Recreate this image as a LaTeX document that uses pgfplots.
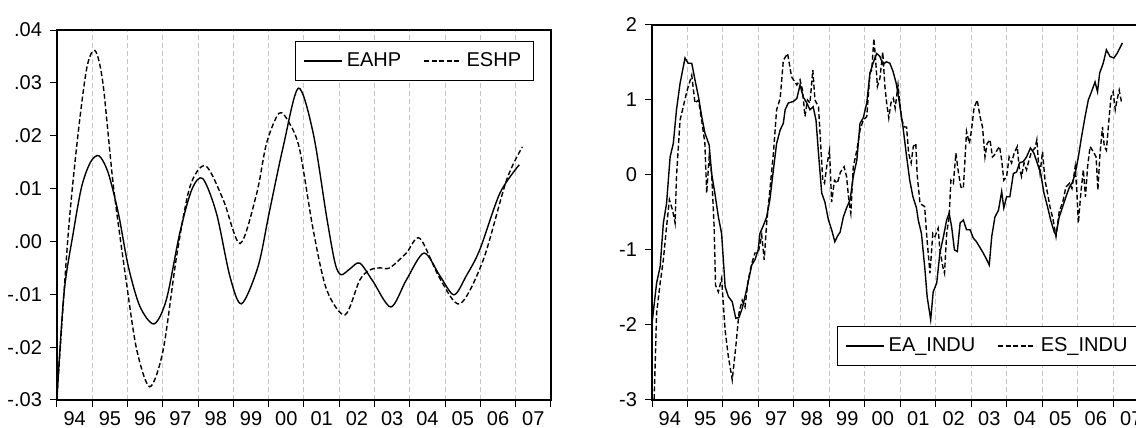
\documentclass[border=0pt]{standalone}
\usepackage{fontspec}
\setmainfont{Liberation Sans}
\usepackage{pgfplots}
\usepackage{pgfplotstable}
\pgfplotsset{compat=1.18}

% HP cycles (left panel)
\pgfplotstableread{
x y
1994.00 -0.0294
1994.20 -0.0097
1994.46 0.0016
1994.70 0.0104
1994.95 0.0150
1995.19 0.0162
1995.45 0.0130
1995.74 0.0053
1996.02 -0.0047
1996.35 -0.0123
1996.75 -0.0156
1997.10 -0.0110
1997.48 0.0016
1997.82 0.0098
1998.13 0.0119
1998.52 0.0053
1998.90 -0.0066
1999.23 -0.0118
1999.70 -0.0047
2000.01 0.0053
2000.41 0.0179
2000.84 0.0290
2001.26 0.0205
2001.64 0.0047
2001.88 -0.0041
2002.05 -0.0063
2002.30 -0.0052
2002.58 -0.0041
2002.95 -0.0075
2003.46 -0.0124
2003.90 -0.0073
2004.40 -0.0022
2004.85 -0.0065
2005.25 -0.0101
2005.60 -0.0065
2005.98 -0.0016
2006.55 0.0091
2007.10 0.0145
}\eahp

\pgfplotstableread{
x y
1994.00 -0.0294
1994.32 0.0016
1994.60 0.0205
1994.85 0.0330
1995.08 0.0361
1995.30 0.0300
1995.60 0.0104
1995.97 -0.0079
1996.26 -0.0205
1996.63 -0.0275
1997.01 -0.0205
1997.39 -0.0028
1997.77 0.0104
1998.21 0.0143
1998.71 0.0079
1999.19 -0.0004
1999.66 0.0091
1999.94 0.0186
2000.30 0.0243
2000.60 0.0222
2000.88 0.0173
2001.26 0.0022
2001.64 -0.0091
2002.16 -0.0139
2002.58 -0.0073
2002.87 -0.0054
2003.15 -0.0050
2003.43 -0.0050
2003.90 -0.0022
2004.28 0.0006
2004.85 -0.0070
2005.42 -0.0118
2006.08 -0.0035
2006.74 0.0116
2007.19 0.0179
}\eshp

% industry confidence (right panel)
\pgfplotstableread{
x y
1994.00 -1.98
1994.13 -1.44
1994.23 -1.22
1994.32 -0.64
1994.41 -0.38
1994.51 0.24
1994.60 0.42
1994.69 0.87
1994.79 1.22
1994.93 1.56
1995.02 1.49
1995.12 1.49
1995.21 1.27
1995.31 1.04
1995.40 0.78
1995.49 0.56
1995.61 0.40
1995.68 0.02
1995.77 -0.24
1995.87 -0.56
1995.96 -0.78
1996.06 -1.49
1996.15 -1.62
1996.26 -1.69
1996.36 -1.91
1996.45 -1.90
1996.54 -1.78
1996.64 -1.58
1996.73 -1.38
1996.81 -1.20
1996.90 -1.13
1996.99 -1.00
1997.04 -0.78
1997.14 -0.67
1997.23 -0.56
1997.32 -0.33
1997.42 0.07
1997.51 0.42
1997.61 0.60
1997.70 0.69
1997.75 0.87
1997.84 0.96
1997.98 0.98
1998.08 1.02
1998.17 1.20
1998.26 1.04
1998.36 0.96
1998.45 0.87
1998.54 0.91
1998.62 0.73
1998.69 0.29
1998.78 -0.24
1998.87 -0.36
1998.97 -0.60
1999.06 -0.73
1999.15 -0.89
1999.22 -0.82
1999.30 -0.76
1999.39 -0.56
1999.48 -0.44
1999.58 -0.33
1999.67 -0.02
1999.77 0.20
1999.86 0.69
1999.95 0.76
2000.05 0.96
2000.14 1.36
2000.24 1.51
2000.33 1.62
2000.42 1.58
2000.51 1.47
2000.60 1.51
2000.70 1.49
2000.79 1.38
2000.88 1.22
2000.97 0.96
2001.07 0.64
2001.16 0.29
2001.26 -0.07
2001.35 -0.29
2001.45 -0.44
2001.50 -0.60
2001.59 -0.78
2001.69 -1.27
2001.75 -1.62
2001.85 -1.93
2001.92 -1.56
2002.02 -1.44
2002.11 -1.04
2002.21 -0.82
2002.30 -0.60
2002.37 -0.51
2002.44 -0.69
2002.52 -1.00
2002.60 -1.02
2002.68 -0.64
2002.77 -0.60
2002.86 -0.73
2002.96 -0.73
2003.05 -0.84
2003.14 -0.89
2003.23 -0.96
2003.33 -1.04
2003.43 -1.13
2003.50 -1.20
2003.57 -0.82
2003.66 -0.56
2003.76 -0.47
2003.85 -0.22
2003.91 -0.44
2003.99 -0.29
2004.08 -0.29
2004.18 0.02
2004.27 0.04
2004.35 0.16
2004.46 0.18
2004.55 0.24
2004.66 0.36
2004.76 0.29
2004.85 0.16
2004.95 0.02
2005.04 -0.24
2005.14 -0.42
2005.23 -0.60
2005.33 -0.76
2005.38 -0.80
2005.47 -0.56
2005.57 -0.42
2005.66 -0.29
2005.76 -0.16
2005.85 -0.09
2005.92 0.02
2006.01 0.24
2006.10 0.51
2006.20 0.78
2006.29 1.00
2006.38 1.11
2006.48 1.24
2006.55 1.11
2006.61 1.36
2006.71 1.49
2006.80 1.67
2006.90 1.58
2007.01 1.56
2007.10 1.62
2007.25 1.76
}\eaindu

\pgfplotstableread{
x y
1994.00 -4.00
1994.13 -1.84
1994.23 -1.44
1994.32 -1.13
1994.41 -0.69
1994.49 -0.33
1994.58 -0.47
1994.65 -0.64
1994.69 -0.02
1994.79 0.73
1994.88 0.91
1994.99 1.13
1995.12 1.33
1995.21 0.96
1995.31 1.00
1995.40 0.73
1995.49 0.42
1995.54 -0.24
1995.61 0.24
1995.68 0.02
1995.75 -0.69
1995.79 -1.47
1995.87 -1.56
1995.96 -1.38
1996.06 -2.07
1996.15 -2.42
1996.26 -2.73
1996.36 -2.29
1996.45 -1.84
1996.54 -1.67
1996.62 -1.76
1996.71 -1.40
1996.81 -1.18
1996.90 -1.04
1996.99 -1.04
1997.09 -0.80
1997.16 -1.13
1997.23 -0.64
1997.32 -0.20
1997.42 0.29
1997.51 0.87
1997.61 1.02
1997.70 1.53
1997.82 1.62
1997.93 1.31
1998.08 1.20
1998.17 1.27
1998.24 1.13
1998.31 0.78
1998.38 1.00
1998.45 0.96
1998.53 1.40
1998.59 1.00
1998.69 0.91
1998.75 0.42
1998.81 -0.07
1998.86 -0.11
1998.92 0.11
1999.00 0.33
1999.06 -0.36
1999.14 -0.07
1999.22 -0.11
1999.31 0.04
1999.41 0.11
1999.48 -0.02
1999.55 -0.36
1999.60 -0.51
1999.67 0.11
1999.77 0.33
1999.86 0.60
1999.95 0.73
2000.05 0.78
2000.14 1.36
2000.19 1.40
2000.25 1.82
2000.30 1.53
2000.35 1.18
2000.42 1.29
2000.50 1.64
2000.56 1.18
2000.61 0.96
2000.67 0.76
2000.73 0.96
2000.80 1.02
2000.85 0.89
2000.93 1.20
2000.98 0.96
2001.04 0.73
2001.11 0.64
2001.17 0.64
2001.23 0.29
2001.30 0.16
2001.36 0.38
2001.43 0.42
2001.47 0.00
2001.55 -0.38
2001.61 -0.40
2001.68 -0.42
2001.74 -0.82
2001.83 -1.31
2001.91 -0.78
2001.97 -0.82
2002.06 -0.71
2002.11 -1.00
2002.19 -1.22
2002.24 -1.31
2002.30 -0.78
2002.37 -0.56
2002.42 -0.07
2002.49 -0.11
2002.56 0.29
2002.63 0.04
2002.70 -0.16
2002.77 -0.18
2002.86 0.58
2002.94 0.42
2003.00 0.60
2003.07 0.89
2003.16 1.00
2003.24 0.78
2003.31 0.64
2003.38 0.24
2003.44 0.42
2003.52 0.47
2003.59 0.24
2003.65 0.27
2003.72 0.33
2003.79 0.38
2003.85 0.20
2003.91 -0.07
2003.99 -0.02
2004.06 0.24
2004.13 0.16
2004.20 0.29
2004.29 0.38
2004.34 0.11
2004.41 -0.02
2004.48 0.16
2004.55 0.07
2004.62 0.20
2004.69 0.31
2004.79 0.36
2004.84 0.47
2004.88 0.20
2004.93 0.02
2005.00 0.31
2005.07 -0.07
2005.14 -0.24
2005.21 -0.42
2005.30 -0.60
2005.38 -0.82
2005.47 -0.49
2005.57 -0.36
2005.66 -0.16
2005.76 -0.11
2005.83 -0.18
2005.92 0.11
2005.97 -0.24
2006.01 -0.64
2006.08 -0.24
2006.15 0.07
2006.21 -0.29
2006.27 0.11
2006.34 0.38
2006.43 0.31
2006.51 0.24
2006.56 -0.20
2006.62 0.29
2006.69 0.64
2006.74 0.38
2006.80 0.33
2006.87 0.73
2006.93 1.04
2006.99 1.11
2007.05 0.87
2007.10 1.00
2007.16 1.13
2007.23 0.96
}\esindu

\pgfplotsset{
  evframe/.style={
    scale only axis,
    xmin=1994, xmax=2008,
    scaled y ticks=false,
    axis line style={line width=1pt},
    every tick/.style={black, line width=0.5pt},
    tick align=outside,
    xtick pos=left, ytick pos=left,
    major tick length=3.5pt, minor tick length=2.5pt,
    xtick={1994,...,2008}, xticklabels={},
    minor x tick num=3,
    xmajorgrids,
    major grid style={gray!45, line width=0.5pt, dash pattern=on 2.5pt off 1.5pt},
    extra x ticks={1994.5,1995.5,...,2007.5},
    extra x tick labels={94,95,96,97,98,99,00,01,02,03,04,05,06,07},
    extra x tick style={major tick length=0pt, grid=none},
    tick label style={font=\fontsize{10}{12}\selectfont},
    xticklabel style={inner sep=0pt, yshift=-5.5pt},
    yticklabel style={xshift=-0.5pt},
    legend columns=2,
    legend image code/.code={\draw[#1] (0pt,0pt) -- (19pt,0pt);},
    legend style={draw=black, line width=0.6pt, fill=white,
      font=\fontsize{10}{12}\selectfont, inner xsep=4pt, inner ysep=3.5pt,
      /tikz/every even column/.append style={column sep=9pt}},
  },
  solidser/.style={black, line width=0.7pt},
  dashser/.style={black, line width=0.7pt, dash pattern=on 2.5pt off 1.3pt},
}

\begin{document}
\begin{tikzpicture}
\path[use as bounding box] (0pt,0pt) rectangle (568pt,214pt);
\clip (0pt,0pt) rectangle (568pt,214pt);

\begin{axis}[evframe,
  at={(28.5pt,14pt)}, anchor=south west,
  width=247pt, height=185pt,
  ymin=-0.03, ymax=0.04,
  ytick={-0.03,-0.02,...,0.04},
  yticklabels={-.03,-.02,-.01,.00,.01,.02,.03,.04},
  legend style={at={(axis description cs:0.965,0.970)}, anchor=north east},
]
\addplot[solidser, smooth] table[x=x, y=y] {\eahp};
\addlegendentry{EAHP}
\addplot[dashser, smooth] table[x=x, y=y] {\eshp};
\addlegendentry{ESHP}
\end{axis}

\begin{axis}[evframe,
  at={(326pt,14pt)}, anchor=south west,
  width=248.5pt, height=187.5pt,
  ymin=-3, ymax=2,
  ytick={-3,-2,...,2},
  yticklabels={-3,-2,-1,0,1,2},
  legend style={at={(axis description cs:0.982,0.0907)}, anchor=south east},
]
\addplot[solidser] table[x=x, y=y] {\eaindu};
\addlegendentry{EA\_INDU}
\addplot[dashser] table[x=x, y=y] {\esindu};
\addlegendentry{ES\_INDU}
\end{axis}
\end{tikzpicture}
\end{document}
